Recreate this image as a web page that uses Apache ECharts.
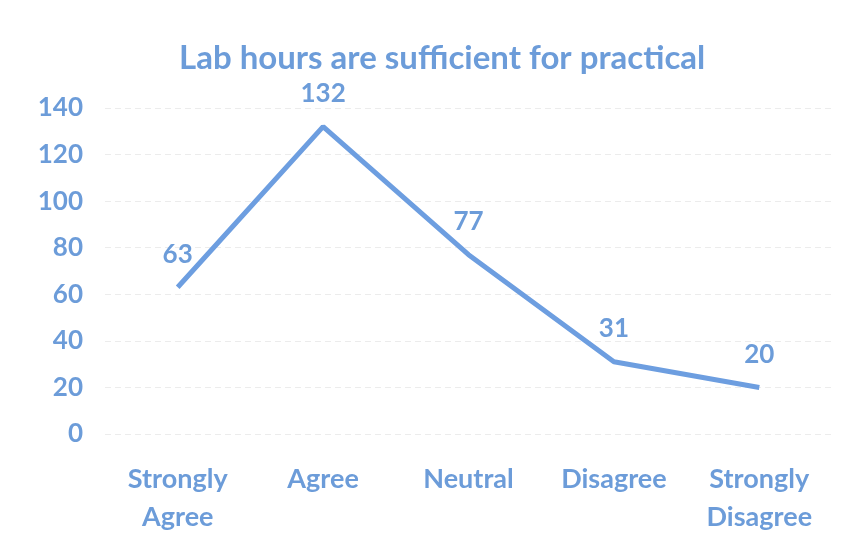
<!DOCTYPE html>
<html>
<head>
<meta charset="utf-8">
<script src="https://cdn.jsdelivr.net/npm/echarts@6/dist/echarts.min.js"></script>
<style>
  html, body { margin: 0; padding: 0; background: #ffffff; }
  #chart { width: 856px; height: 552px; }
</style>
</head>
<body>
<div id="chart"></div>
<script>
// Survey responses: "Lab hours are sufficient for practical"
const categories = ['Strongly\nAgree', 'Agree', 'Neutral', 'Disagree', 'Strongly\nDisagree'];
const responses = [63, 132, 77, 31, 20];
const yTicks = { min: 0, max: 140, interval: 20 };

const blueText = '#6c9cd9';
const blueLine = '#6d9ee0';
const fontFamily = 'Lato, "Open Sans", sans-serif';

const chart = echarts.init(document.getElementById('chart'));
chart.setOption({
  backgroundColor: '#ffffff',
  title: {
    text: 'Lab hours are sufficient for practical',
    left: 174,
    top: 37,
    textStyle: { color: blueText, fontSize: 33, fontWeight: 'bold', fontFamily }
  },
  grid: { left: 105, right: 24, top: 108, bottom: 118 },
  xAxis: {
    type: 'category',
    data: categories,
    boundaryGap: true,
    axisLine: { show: false },
    axisTick: { show: false },
    axisLabel: {
      color: blueText, fontSize: 27, fontWeight: 'bold', fontFamily,
      lineHeight: 38, margin: 26, interval: 0
    }
  },
  yAxis: {
    type: 'value',
    min: yTicks.min, max: yTicks.max, interval: yTicks.interval,
    axisLine: { show: false },
    axisTick: { show: false },
    splitLine: { lineStyle: { color: '#ececec', width: 1, type: [6, 4] } },
    axisLabel: { color: blueText, fontSize: 26, fontWeight: 'bold', fontFamily, margin: 22 }
  },
  series: [{
    type: 'line',
    data: responses,
    symbol: 'circle',
    symbolSize: 0,
    showSymbol: true,
    itemStyle: { color: blueLine },
    lineStyle: { color: blueLine, width: 5 },
    label: {
      show: true, position: 'top', distance: 20,
      color: blueText, fontSize: 26, fontWeight: 'bold', fontFamily
    }
  }],
  animation: false
});
</script>
</body>
</html>
